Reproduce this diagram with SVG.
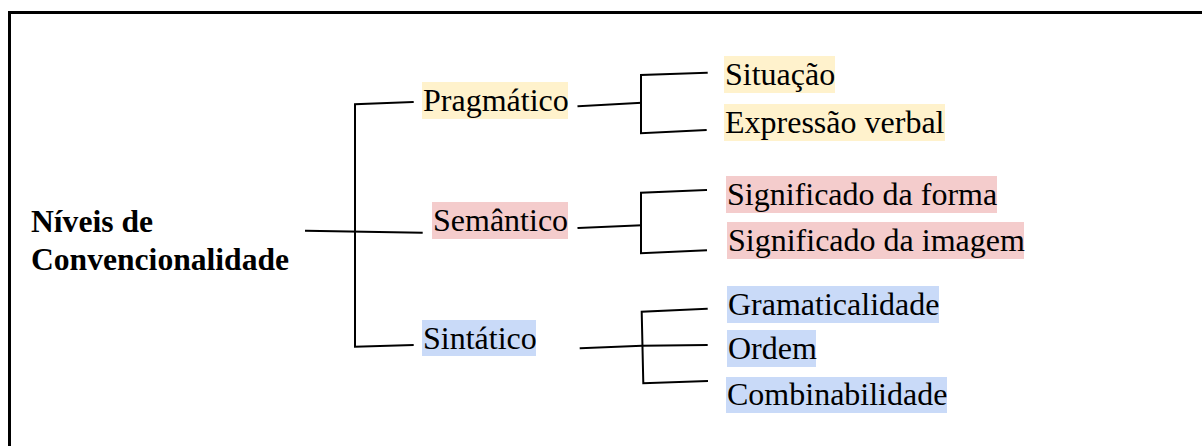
<svg xmlns="http://www.w3.org/2000/svg" width="1202" height="446" viewBox="0 0 1202 446" font-family="Liberation Serif, serif">
<style>
text{font-size:32px;fill:#000}
.title{font-weight:bold;font-size:31.6px}
.y{fill:#fff2cc}
.r{fill:#f4cccc}
.b{fill:#c9daf8}
.c{fill:none;stroke:#000;stroke-width:2;stroke-linecap:square;stroke-linejoin:miter}
.frame{fill:none;stroke:#000;stroke-width:3}
</style>
<rect width="1202" height="446" fill="#fff"/>
<path class="frame" d="M9.5 446 V12.5 H1202"/>
<g id="root"><text class="title" x="31" y="232">Níveis de</text><text class="title" x="31" y="270">Convencionalidade</text></g>
<g id="pragmatico"><rect class="y" x="422" y="82" width="146" height="37"/><text x="423" y="111">Pragmático</text></g>
<g id="semantico"><rect class="r" x="432" y="202" width="136" height="37"/><text x="433" y="231">Semântico</text></g>
<g id="sintatico"><rect class="b" x="422" y="320" width="114" height="36"/><text x="423" y="349">Sintático</text></g>
<g id="situacao"><rect class="y" x="724" y="56" width="111" height="37"/><text x="725" y="85">Situação</text></g>
<g id="expressao"><rect class="y" x="724" y="104" width="221" height="37"/><text x="725" y="133">Expressão verbal</text></g>
<g id="sig-forma"><rect class="r" x="726" y="176" width="271" height="37"/><text x="727" y="205">Significado da forma</text></g>
<g id="sig-imagem"><rect class="r" x="727" y="222" width="297" height="37"/><text x="728" y="251">Significado da imagem</text></g>
<g id="gramaticalidade"><rect class="b" x="727" y="286" width="212" height="37"/><text x="728" y="315">Gramaticalidade</text></g>
<g id="ordem"><rect class="b" x="727" y="330" width="89" height="37"/><text x="728" y="359">Ordem</text></g>
<g id="combinabilidade"><rect class="b" x="726" y="377" width="221" height="36"/><text x="727" y="405">Combinabilidade</text></g>
<g id="connectors">
<path class="c" d="M306 230.7 L421.7 232.7"/>
<path class="c" d="M412.7 102 L355 104.3 L355 346.7 L412.7 345"/>
<path class="c" d="M578.5 106.3 L641 102.7"/>
<path class="c" d="M706.7 72.7 L641 75 L641 133.3 L705.7 130"/>
<path class="c" d="M578.5 228 L641 225.3"/>
<path class="c" d="M706 190 L641 192.7 L641 253.3 L706 250.3"/>
<path class="c" d="M580.7 348.3 L642 345.7 L706.7 345"/>
<path class="c" d="M706.7 308.7 L641.7 311.7 L643.3 383.3 L707 381"/>
</g>
</svg>
